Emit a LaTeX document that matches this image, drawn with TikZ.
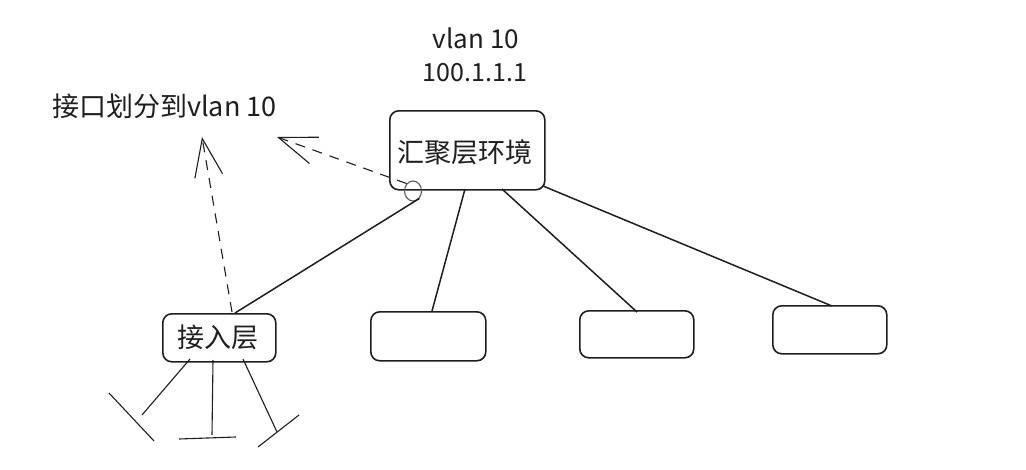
\documentclass[tikz,border=0pt]{standalone}
\usepackage{fontspec}
\setmainfont{Noto Sans CJK SC}
\usetikzlibrary{arrows.meta,shapes.geometric}
\definecolor{ink}{HTML}{1E1E1E}
\tikzset{
  box/.style={draw=ink, line width=1.6pt, rounded corners=9pt, inner sep=0pt, anchor=north west},
  link/.style={draw=ink, line width=1.5pt},
  thin link/.style={draw=ink, line width=1.1pt},
  dlink/.style={draw=ink, line width=1.1pt, dash pattern=on 10pt off 8pt, -{Straight Barb[length=38pt,width=28pt,line width=1.1pt]}},
  lbl/.style={text=ink, font=\fontsize{26}{30}\selectfont, inner sep=0pt},
  cjk/.style={text=ink, font=\fontsize{27}{31}\selectfont, inner sep=0pt}
}
\begin{document}
\begin{tikzpicture}[x=1pt,y=-1pt]
\useasboundingbox (0,0) rectangle (1026,469);
\fill[white] (0,0) rectangle (1026,469);
% boxes
\node[box, minimum width=155pt, minimum height=79pt] (agg) at (389,110) {};
\node[cjk] (aggt) at (465,152) {汇聚层环境};
\node[box, minimum width=113pt, minimum height=48pt] (acc) at (162,313) {};
\node[cjk] (acct) at (218,337) {接入层};
\node[box, minimum width=115pt, minimum height=49pt] (b2) at (370,311) {};
\node[box, minimum width=114pt, minimum height=47pt] (b3) at (579,310) {};
\node[box, minimum width=114pt, minimum height=48pt] (b4) at (772,305) {};
% labels
\node[lbl] (v1) at (476,38) {vlan 10};
\node[lbl, font=\fontsize{25}{29}\selectfont] (v2) at (475,73) {100.1.1.1};
\node[cjk, anchor=west] (note) at (52,106) {接口划分到vlan 10};
% port circle
\node[draw=ink!75, line width=1.1pt, ellipse, minimum width=17pt, minimum height=20pt, inner sep=0pt] (port) at (413,191) {};
% coordinates
\coordinate (tip1) at (277,137);
\coordinate (tip2) at (202,137);
\coordinate (a1) at (142,415);
\coordinate (a2) at (212,435);
\coordinate (a3) at (277,432);
% solid connectors
\draw[link] (port.south east) -- (acc.north -| 235,0);
\draw[link] (465,189) -- (432,311);
\draw[link] (502,189) -- (637,312);
\draw[link] (543,186) -- (832,306);
% dashed arrows
\draw[dlink] (port.north west) -- (tip1);
\draw[dlink] (232,312) -- (tip2);
% access lines
\draw[thin link] (190,359) -- (a1);
\draw[thin link] (213,360) -- (a2);
\draw[thin link] (243,359) -- (a3);
\draw[thin link] (109,393) -- (154,441);
\draw[thin link] (179,439) -- (236,437);
\draw[thin link] (258,447) -- (299,415);
\end{tikzpicture}
\end{document}
